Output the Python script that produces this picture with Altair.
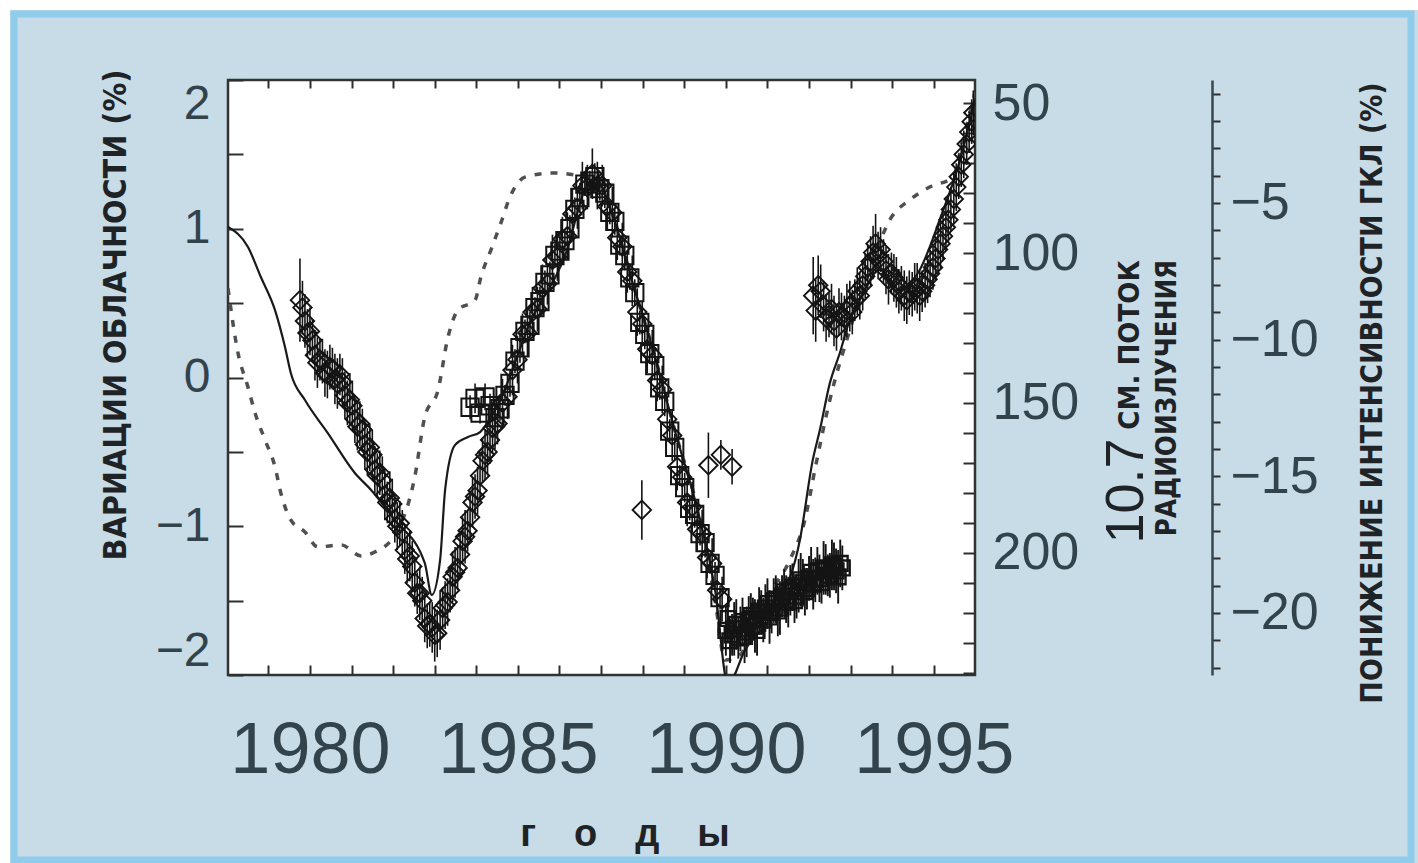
import altair as alt
import pandas as pd

# ---------------- scales / ticks ----------------
YEAR_DOMAIN = [1978.03, 1995.99]
CLOUD_DOMAIN = [-2, 2]
FLUX_DOMAIN = [42.3, 240.7]      # 10.7 cm flux, reversed axis
GCR_DOMAIN = [-22.27, -0.5]      # cosmic-ray intensity decrease (%)

year_ticks = list(range(1979, 1996))
cloud_ticks = [-2, -1.5, -1, -0.5, 0, 0.5, 1, 1.5, 2]
flux_ticks = list(range(50, 250, 10))
gcr_ticks = list(range(-1, -23, -1))

# ---------------- data ----------------
# solid line: cosmic-ray intensity decrease (%), right outer axis
gcr_year = [1978.03, 1978.51, 1978.82, 1979.16, 1979.40, 1979.54, 1979.88, 1980.43, 1981.08,
            1981.47, 1982.04, 1982.76, 1982.93, 1983.13, 1983.25, 1983.49, 1983.80, 1984.09,
            1984.57, 1985.29, 1986.18, 1986.61, 1986.85, 1987.28, 1987.76, 1988.25, 1988.77,
            1989.38, 1989.74, 1990.05, 1990.46, 1991.18, 1991.78, 1992.09, 1992.26, 1992.50,
            1992.74, 1992.98, 1993.22, 1993.70, 1994.18, 1994.66, 1995.14, 1995.63, 1995.99]
gcr_value = [-5.88, -6.61, -7.71, -8.92, -10.27, -11.22, -12.21, -13.42, -14.88,
             -15.50, -16.60, -18.17, -19.34, -18.06, -15.50, -13.85, -13.56, -13.38,
             -12.21, -9.39, -6.72, -4.52, -4.09, -5.44, -7.93, -10.38, -13.31,
             -16.60, -19.16, -22.60, -21.36, -19.89, -17.33, -14.40, -13.31, -11.59,
             -10.49, -9.28, -8.55, -7.45, -8.18, -7.45, -5.62, -3.43, -1.23]

# dashed line: 10.7 cm radio flux
flux_year = [1978.03, 1978.27, 1978.51, 1978.68, 1978.92, 1979.16, 1979.30, 1979.54, 1979.88,
             1980.19, 1980.75, 1981.23, 1981.56, 1982.04, 1982.52, 1982.76, 1983.08, 1983.32,
             1983.56, 1983.97, 1984.11, 1984.35, 1984.59, 1984.81, 1985.17, 1985.84, 1986.37,
             1986.85, 1987.28, 1987.76, 1988.25, 1988.77, 1989.38, 1989.74, 1989.98, 1990.34,
             1990.94, 1991.54, 1991.90, 1992.14, 1992.50, 1992.98, 1993.46, 1993.94, 1994.42,
             1994.90, 1995.46, 1995.67, 1995.99]
flux_value = [111.7, 133.3, 144.7, 153.3, 162.3, 171.3, 180.0, 189.0, 193.0,
              198.0, 197.3, 201.0, 199.7, 194.0, 174.7, 154.7, 145.7, 128.0,
              119.0, 115.7, 108.0, 99.0, 90.0, 81.3, 74.7, 73.3, 74.0,
              75.7, 87.3, 110.0, 132.3, 159.0, 189.0, 215.7, 235.7, 234.0,
              215.7, 202.3, 189.0, 172.3, 149.0, 125.7, 105.7, 89.0, 82.3,
              78.0, 74.7, 64.0, 46.3]

# cloud cover, diamonds with error bars (1979-1984 and a few later points)
dia_year = [1979.76, 1979.88, 1980.00, 1980.12, 1980.24, 1980.36, 1980.48, 1980.60, 1980.72,
            1980.84, 1980.96, 1981.08, 1981.20, 1981.32, 1981.44, 1981.56, 1981.68, 1981.80,
            1981.92, 1982.04, 1982.16, 1982.28, 1982.40, 1982.52, 1982.64, 1982.76, 1982.88,
            1983.00, 1983.13, 1983.25, 1983.37, 1983.49, 1983.61, 1983.73, 1983.85, 1983.97,
            1984.09, 1984.21, 1984.33, 1984.45, 1987.98, 1989.58, 1989.88, 1990.15]
dia_cloud = [0.52, 0.38, 0.31, 0.15, 0.12, 0.03, 0.07, -0.01, 0.02,
             -0.12, -0.15, -0.28, -0.31, -0.45, -0.47, -0.62, -0.64, -0.79,
             -0.81, -0.95, -0.98, -1.16, -1.20, -1.38, -1.45, -1.62, -1.66,
             -1.73, -1.63, -1.53, -1.43, -1.31, -1.19, -1.07, -0.94, -0.80,
             -0.66, -0.52, -0.42, -0.33, -0.89, -0.59, -0.52, -0.60]
dia_err = [0.28, 0.18, 0.16, 0.17, 0.14, 0.16, 0.15, 0.17, 0.14,
           0.16, 0.18, 0.16, 0.15, 0.17, 0.16, 0.16, 0.15, 0.17,
           0.18, 0.16, 0.15, 0.16, 0.17, 0.16, 0.18, 0.16, 0.15,
           0.18, 0.20, 0.16, 0.15, 0.17, 0.16, 0.18, 0.16, 0.15,
           0.16, 0.17, 0.16, 0.15, 0.20, 0.22, 0.10, 0.12]

# cloud cover, second set of diamonds along the band (1979.8-1990)
dia2_year = [1979.82, 1979.94, 1980.06, 1980.18, 1980.30, 1980.42, 1980.54, 1980.66, 1980.78,
             1980.90, 1981.02, 1981.14, 1981.26, 1981.38, 1981.50, 1981.62, 1981.74, 1981.86,
             1981.98, 1982.10, 1982.22, 1982.34, 1982.46, 1982.58, 1982.70, 1982.82, 1982.94,
             1983.06, 1983.19, 1983.31, 1983.43, 1983.55, 1983.67, 1983.79, 1983.91, 1984.03,
             1984.15, 1984.27, 1984.39, 1984.51, 1984.63, 1984.75, 1984.87, 1984.99, 1985.11,
             1985.23, 1985.35, 1985.47, 1985.59, 1985.71, 1985.83, 1985.95, 1986.07, 1986.19,
             1986.31, 1986.43, 1986.55, 1986.67, 1986.79, 1986.91, 1987.03, 1987.15, 1987.27,
             1987.39, 1987.51, 1987.63, 1987.75, 1987.87, 1987.99, 1988.11, 1988.23, 1988.35,
             1988.47, 1988.59, 1988.71, 1988.83, 1988.95, 1989.07, 1989.19, 1989.31, 1989.43,
             1989.55, 1989.67, 1989.79, 1989.91]
dia2_cloud = [0.47, 0.30, 0.25, 0.10, 0.11, 0.02, 0.06, -0.04, -0.03,
              -0.17, -0.19, -0.33, -0.35, -0.50, -0.52, -0.66, -0.69, -0.84,
              -0.85, -1.00, -1.04, -1.22, -1.27, -1.45, -1.50, -1.67, -1.68,
              -1.72, -1.55, -1.51, -1.34, -1.28, -1.10, -1.03, -0.84, -0.76,
              -0.56, -0.50, -0.34, -0.31, -0.17, -0.13, 0.05, 0.12, 0.29,
              0.30, 0.44, 0.46, 0.60, 0.63, 0.79, 0.81, 0.93, 0.95,
              1.10, 1.14, 1.29, 1.28, 1.37, 1.29, 1.29, 1.15, 1.11,
              0.94, 0.88, 0.71, 0.65, 0.44, 0.36, 0.19, 0.15, -0.02,
              -0.08, -0.28, -0.39, -0.60, -0.67, -0.84, -0.87, -1.02, -1.05,
              -1.21, -1.25, -1.43, -1.49]
dia2_err = [0.18, 0.16, 0.14, 0.17, 0.15, 0.16, 0.14, 0.17, 0.16,
            0.15, 0.17, 0.16, 0.14, 0.16, 0.17, 0.15, 0.16, 0.14,
            0.17, 0.16, 0.15, 0.16, 0.17, 0.14, 0.16, 0.15, 0.17,
            0.16, 0.14, 0.16, 0.17, 0.15, 0.16, 0.14, 0.17, 0.16,
            0.15, 0.16, 0.17, 0.14, 0.16, 0.15, 0.17, 0.16, 0.14,
            0.16, 0.17, 0.15, 0.16, 0.14, 0.17, 0.16, 0.15, 0.16,
            0.17, 0.14, 0.16, 0.15, 0.17, 0.16, 0.14, 0.16, 0.17,
            0.15, 0.16, 0.14, 0.17, 0.16, 0.15, 0.16, 0.17, 0.14,
            0.16, 0.15, 0.17, 0.16, 0.14, 0.16, 0.17, 0.15, 0.16,
            0.14, 0.17, 0.16, 0.15]

# cloud cover, open squares (1984-1990)
sq_year = [1983.85, 1983.97, 1984.09, 1984.21, 1984.33, 1984.45, 1984.57, 1984.69, 1984.81,
           1984.93, 1985.05, 1985.17, 1985.29, 1985.41, 1985.53, 1985.65, 1985.77, 1985.89,
           1986.01, 1986.13, 1986.25, 1986.37, 1986.49, 1986.61, 1986.73, 1986.85, 1986.97,
           1987.09, 1987.21, 1987.33, 1987.45, 1987.57, 1987.69, 1987.81, 1987.93, 1988.05,
           1988.17, 1988.29, 1988.41, 1988.53, 1988.65, 1988.77, 1988.89, 1989.01, 1989.13,
           1989.25, 1989.38, 1989.50, 1989.62, 1989.74, 1989.86]
sq_cloud = [-0.20, -0.14, -0.24, -0.13, -0.19, -0.27, -0.21, -0.12, -0.04,
            0.11, 0.20, 0.31, 0.35, 0.47, 0.51, 0.64, 0.69, 0.82,
            0.85, 0.92, 1.00, 1.13, 1.21, 1.30, 1.32, 1.35, 1.27,
            1.24, 1.11, 1.05, 0.89, 0.82, 0.67, 0.57, 0.37, 0.29,
            0.16, 0.08, -0.07, -0.16, -0.36, -0.47, -0.66, -0.74, -0.88,
            -0.92, -1.05, -1.11, -1.25, -1.33, -1.48]
sq_err = [0.08, 0.10, 0.07, 0.09, 0.08, 0.10, 0.08, 0.07, 0.09,
          0.08, 0.10, 0.08, 0.09, 0.07, 0.10, 0.08, 0.09, 0.08,
          0.10, 0.07, 0.09, 0.08, 0.10, 0.08, 0.07, 0.09, 0.08,
          0.10, 0.08, 0.09, 0.07, 0.10, 0.08, 0.09, 0.08, 0.10,
          0.07, 0.09, 0.08, 0.10, 0.08, 0.09, 0.07, 0.10, 0.08,
          0.09, 0.08, 0.10, 0.07, 0.09, 0.08]

# cloud cover, dense dark cluster (1990-1992.8)
blob_year = [1990.0, 1990.1, 1990.2, 1990.3, 1990.4, 1990.5, 1990.6, 1990.7, 1990.8, 1990.9,
             1991.0, 1991.1, 1991.2, 1991.3, 1991.4, 1991.5, 1991.6, 1991.7, 1991.8, 1991.9,
             1992.0, 1992.1, 1992.2, 1992.3, 1992.4, 1992.5, 1992.6, 1992.7, 1992.8,
             1990.05, 1990.15, 1990.25, 1990.35, 1990.45, 1990.55, 1990.65, 1990.75, 1990.85,
             1990.95, 1991.05, 1991.15, 1991.25, 1991.35, 1991.45, 1991.55, 1991.65, 1991.75,
             1991.85, 1991.95, 1992.05, 1992.15, 1992.25, 1992.35, 1992.45, 1992.55, 1992.65,
             1992.75]
blob_cloud = [-1.70, -1.77, -1.69, -1.75, -1.64, -1.71, -1.60, -1.67, -1.57, -1.63,
              -1.52, -1.58, -1.49, -1.55, -1.44, -1.51, -1.41, -1.47, -1.36, -1.44,
              -1.35, -1.39, -1.30, -1.38, -1.29, -1.33, -1.27, -1.34, -1.28,
              -1.62, -1.73, -1.66, -1.69, -1.74, -1.63, -1.62, -1.70, -1.58,
              -1.55, -1.61, -1.50, -1.57, -1.47, -1.49, -1.43, -1.50, -1.40,
              -1.38, -1.42, -1.31, -1.36, -1.35, -1.28, -1.33, -1.26, -1.30,
              -1.25]
blob_err = [0.17, 0.15, 0.18, 0.14, 0.16, 0.17, 0.15, 0.18, 0.16, 0.15,
            0.17, 0.14, 0.16, 0.18, 0.15, 0.17, 0.16, 0.15, 0.18, 0.16,
            0.15, 0.17, 0.16, 0.14, 0.17, 0.15, 0.16, 0.18, 0.15,
            0.16, 0.14, 0.17, 0.15, 0.18, 0.16, 0.14, 0.17, 0.15,
            0.16, 0.18, 0.15, 0.17, 0.14, 0.16, 0.17, 0.15, 0.18,
            0.16, 0.14, 0.17, 0.15, 0.16, 0.18, 0.14, 0.17, 0.15,
            0.16]

# cloud cover, diamonds with error bars (1992-1996)
late_year = [1992.10, 1992.22, 1992.35, 1992.48, 1992.60, 1992.72, 1992.85, 1992.98, 1993.10,
             1993.22, 1993.35, 1993.48, 1993.60, 1993.72, 1993.85, 1993.98, 1994.10, 1994.22,
             1994.35, 1994.48, 1994.60, 1994.72, 1994.85, 1994.98, 1995.10, 1995.22, 1995.35,
             1995.48, 1995.60, 1995.72, 1995.85, 1995.95,
             1992.16, 1992.28, 1992.41, 1992.54, 1992.66, 1992.78, 1992.91, 1993.04, 1993.16,
             1993.29, 1993.41, 1993.54, 1993.66, 1993.79, 1993.91, 1994.04, 1994.16, 1994.29,
             1994.41, 1994.54, 1994.66, 1994.79, 1994.91, 1995.04, 1995.16, 1995.29, 1995.41,
             1995.54, 1995.66, 1995.79, 1995.91]
late_cloud = [0.55, 0.62, 0.48, 0.42, 0.38, 0.44, 0.40, 0.48, 0.52,
              0.55, 0.68, 0.78, 0.90, 0.86, 0.72, 0.70, 0.64, 0.60,
              0.52, 0.56, 0.60, 0.58, 0.66, 0.74, 0.86, 0.95, 1.06,
              1.20, 1.35, 1.50, 1.65, 1.78,
              0.45, 0.58, 0.40, 0.46, 0.33, 0.41, 0.45, 0.44, 0.58,
              0.62, 0.74, 0.84, 0.82, 0.78, 0.66, 0.67, 0.58, 0.55,
              0.57, 0.61, 0.55, 0.62, 0.70, 0.80, 0.90, 1.01, 1.13,
              1.28, 1.43, 1.57, 1.72]
late_err = [0.26, 0.20, 0.17, 0.15, 0.17, 0.16, 0.15, 0.17, 0.14,
            0.16, 0.15, 0.17, 0.20, 0.15, 0.16, 0.14, 0.17, 0.15,
            0.16, 0.15, 0.17, 0.14, 0.16, 0.15, 0.17, 0.16, 0.15,
            0.17, 0.15, 0.16, 0.14, 0.15,
            0.21, 0.18, 0.16, 0.17, 0.15, 0.16, 0.18, 0.15, 0.16,
            0.17, 0.15, 0.18, 0.16, 0.15, 0.17, 0.16, 0.15, 0.17,
            0.15, 0.16, 0.17, 0.15, 0.16, 0.15, 0.17, 0.16, 0.15,
            0.16, 0.15, 0.14, 0.15]

# ---------------- frames ----------------
def err_frame(years, vals, errs):
    df = pd.DataFrame({"year": years, "cloud": vals, "err": errs})
    df["lo"] = df["cloud"] - df["err"]
    df["hi"] = df["cloud"] + df["err"]
    return df

df_dia = err_frame(dia_year, dia_cloud, dia_err)
df_dia2 = err_frame(dia2_year, dia2_cloud, dia2_err)
df_sq = err_frame(sq_year, sq_cloud, sq_err)
df_blob = err_frame(blob_year, blob_cloud, blob_err)
df_late = err_frame(late_year, late_cloud, late_err)
df_gcr = pd.DataFrame({"year": gcr_year, "gcr": gcr_value})
df_flux = pd.DataFrame({"year": flux_year, "flux": flux_value})
one = pd.DataFrame({"a": [0]})

xs = alt.Scale(domain=YEAR_DOMAIN, nice=False, zero=False)
ys_cloud = alt.Scale(domain=CLOUD_DOMAIN, nice=False, zero=False)
ys_flux = alt.Scale(domain=FLUX_DOMAIN, nice=False, zero=False, reverse=True)
ys_gcr = alt.Scale(domain=GCR_DOMAIN, nice=False, zero=False)

LABEL_COLOR = "#33434c"
TICK_COLOR = "#2e2e2e"
LABEL_FONT = "Liberation Sans"
NARROW = "Liberation Sans Narrow, DejaVu Sans Condensed, Liberation Sans"
TITLE_COLOR = "#1f2326"
INK = "#141414"

common = dict(grid=False, title=None, labelOverlap=False, tickColor=TICK_COLOR, tickWidth=2,
              labelColor=LABEL_COLOR, labelFont=LABEL_FONT)

bottom_axis = alt.Axis(orient="bottom", offset=-10, tickSize=10, values=year_ticks, domain=False,
                       labelExpr="datum.value % 5 === 0 ? format(datum.value, 'd') : ''",
                       labelFontSize=72, labelPadding=40, labelFlush=False, **common)
top_axis = alt.Axis(orient="top", offset=-8, tickSize=8, values=year_ticks, domain=False,
                    labels=False, **common)
left_axis = alt.Axis(orient="left", offset=-15, tickSize=15, values=cloud_ticks, domain=False,
                     labelExpr="datum.value % 1 === 0 ? format(datum.value, 'd') : ''",
                     labelFontSize=48, labelPadding=18, labelFlush=True, **common)
flux_axis = alt.Axis(orient="right", offset=-12, tickSize=12, values=flux_ticks, domain=False,
                     labelExpr="datum.value % 50 === 0 ? format(datum.value, 'd') : ''",
                     labelFontSize=52, labelPadding=17, labelFlush=False, **common)
gcr_axis = alt.Axis(orient="right", offset=237, tickSize=8, values=gcr_ticks, domain=True,
                    domainColor="#3a464d", domainWidth=2.5,
                    labelExpr="datum.value % 5 === 0 ? format(datum.value, 'd') : ''",
                    labelFontSize=52, labelPadding=10, labelFlush=False, **common)

# ---------------- layers ----------------
border_white = alt.Chart(one).mark_rect(fillOpacity=0, stroke="white", strokeWidth=20).encode(
    x=alt.value(-228), x2=alt.value(1200), y=alt.value(-80), y2=alt.value(793))
border_blue = alt.Chart(one).mark_rect(fillOpacity=0, stroke="#8fcbea", strokeWidth=7).encode(
    x=alt.value(-214), x2=alt.value(1183), y=alt.value(-66), y2=alt.value(780))

flux_line = alt.Chart(df_flux).mark_line(color="#505050", strokeWidth=3.5, strokeDash=[7, 9],
                                         clip=True, interpolate="monotone").encode(
    x=alt.X("year:Q", scale=xs, axis=top_axis),
    y=alt.Y("flux:Q", scale=ys_flux, axis=flux_axis))

gcr_line = alt.Chart(df_gcr).mark_line(color="#1a1a1a", strokeWidth=2.2, clip=True,
                                       interpolate="monotone").encode(
    x=alt.X("year:Q", scale=xs, axis=None),
    y=alt.Y("gcr:Q", scale=ys_gcr, axis=gcr_axis))


def err_layer(df, width=1.6):
    return alt.Chart(df).mark_rule(color=INK, strokeWidth=width, clip=True).encode(
        x=alt.X("year:Q", scale=xs, axis=None),
        y=alt.Y("lo:Q", scale=ys_cloud, axis=None),
        y2="hi:Q")


def pts_layer(df, shape, size, width, xaxis=None, yaxis=None):
    return alt.Chart(df).mark_point(shape=shape, size=size, filled=False, color=INK,
                                    strokeWidth=width, opacity=1, clip=True).encode(
        x=alt.X("year:Q", scale=xs, axis=xaxis),
        y=alt.Y("cloud:Q", scale=ys_cloud, axis=yaxis))


err_dia = err_layer(df_dia)
pts_dia = pts_layer(df_dia, "diamond", 340, 1.9, xaxis=bottom_axis, yaxis=left_axis)
err_dia2 = err_layer(df_dia2)
pts_dia2 = pts_layer(df_dia2, "diamond", 340, 1.9)
err_sq = err_layer(df_sq)
pts_sq = pts_layer(df_sq, "square", 300, 2.0)
err_blob = err_layer(df_blob, 1.9)
pts_blob = pts_layer(df_blob, "square", 220, 2.3)
err_late = err_layer(df_late)
pts_late = pts_layer(df_late, "diamond", 340, 1.9)


def title_text(txt, x, y, size, font=NARROW, weight="bold", angle=270):
    return alt.Chart(one).mark_text(text=txt, font=font, fontSize=size, fontWeight=weight,
                                    angle=angle, align="center", baseline="middle",
                                    color=TITLE_COLOR).encode(x=alt.value(x), y=alt.value(y))


t_left = title_text("ВАРИАЦИИ ОБЛАЧНОСТИ (%)", -112, 235, 32)
t_flux_num = title_text("10.7", 899, 411, 54, font=LABEL_FONT, weight="normal")
t_flux_txt = title_text("СМ. ПОТОК", 902, 265, 29)
t_flux_2 = title_text("РАДИОИЗЛУЧЕНИЯ", 940, 318, 27.5)
t_gcr = title_text("ПОНИЖЕНИЕ ИНТЕНСИВНОСТИ ГКЛ (%)", 1145, 313, 30)
t_x = title_text("г\u2003о\u2003д\u2003ы", 397, 755, 38, font=LABEL_FONT, angle=0)

chart = alt.layer(
    border_white, border_blue,
    flux_line, gcr_line,
    err_dia, err_dia2, err_sq, err_blob, err_late,
    pts_dia, pts_dia2, pts_sq, pts_blob, pts_late,
    t_left, t_flux_num, t_flux_txt, t_flux_2, t_gcr, t_x,
).resolve_scale(x="independent", y="independent").properties(
    width=747, height=595,
    padding={"left": 228, "top": 80, "right": 443, "bottom": 188},
    autosize=alt.AutoSizeParams(type="none"),
    background="#c7dce6",
).configure_view(fill="white", stroke="#333333", strokeWidth=2.5)

chart.save("out.html", embed_options={"renderer": "svg", "actions": False})
